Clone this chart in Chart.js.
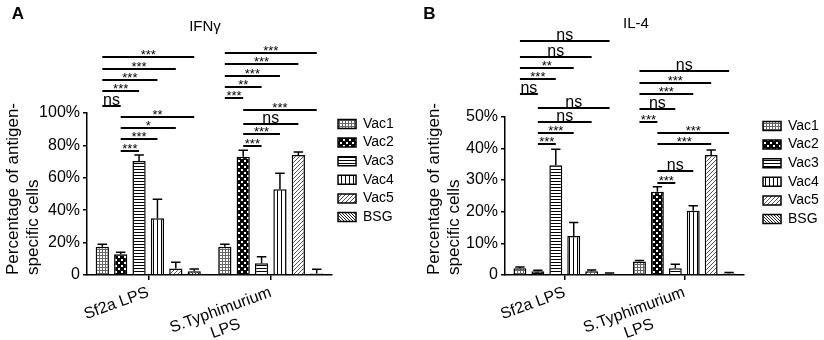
<!DOCTYPE html>
<html>
<head>
<meta charset="utf-8">
<script src="https://cdn.jsdelivr.net/npm/chart.js@4.4.1/dist/chart.umd.min.js"></script>
<style>
  html, body { margin: 0; padding: 0; background: #fff; }
  #wrap { position: relative; width: 824px; height: 340px; }
  canvas { position: absolute; top: 0; }
  #chartA { left: 0; }
  #chartB { left: 412px; }
</style>
</head>
<body>
<div id="wrap">
  <canvas id="chartA" width="412" height="340"></canvas>
  <canvas id="chartB" width="412" height="340"></canvas>
</div>
<script>
// ---- data ----
const categories = ['Sf2a LPS', ['S.Typhimurium', 'LPS']];
const seriesNames = ['Vac1', 'Vac2', 'Vac3', 'Vac4', 'Vac5', 'BSG'];

// IFNγ (%), one value per series
const ifnSf2a = [17.5, 12.8, 70.4, 35.0, 4.0, 2.3];
const ifnSf2aErr = [1.5, 1.2, 3.6, 11.7, 3.8, 1.4];
const ifnStm = [17.5, 73.0, 7.2, 52.9, 74.0, 1.0];
const ifnStmErr = [1.5, 4.0, 4.1, 9.9, 2.0, 2.5];

// IL-4 (%)
const il4Sf2a = [2.1, 1.2, 34.7, 12.3, 1.2, 0.4];
const il4Sf2aErr = [0.4, 0.3, 5.0, 4.3, 0.4, 0.2];
const il4Stm = [4.3, 26.3, 2.1, 20.3, 37.9, 0.5];
const il4StmErr = [0.3, 1.6, 1.3, 1.6, 1.6, 0.3];

const yTicksA = [0, 20, 40, 60, 80, 100];
const yTicksB = [0, 10, 20, 30, 40, 50];

// significance brackets: [from series, to series, level (%), label]
const ifnSigSf2a = [
  [0, 1, 104.3, 'ns'], [0, 2, 113.6, '***'], [0, 3, 120.4, '***'], [0, 4, 127.3, '***'], [0, 5, 134.4, '***'],
  [1, 2, 76.5, '***'], [1, 3, 83.8, '***'], [1, 4, 90.7, '*'], [1, 5, 97.7, '**']
];
const ifnSigStm = [
  [0, 1, 109.0, '***'], [0, 2, 116.2, '**'], [0, 3, 123.0, '***'], [0, 4, 130.3, '***'], [0, 5, 137.0, '***'],
  [1, 2, 79.8, '***'], [1, 3, 86.9, '***'], [1, 4, 93.4, 'ns'], [1, 5, 102.0, '***']
];
const il4SigSf2a = [
  [0, 1, 57.2, 'ns'], [0, 2, 61.8, '***'], [0, 3, 65.5, '**'], [0, 4, 68.9, 'ns'], [0, 5, 73.9, 'ns'],
  [1, 2, 41.3, '***'], [1, 3, 44.7, '***'], [1, 4, 48.2, 'ns'], [1, 5, 52.6, 'ns']
];
const il4SigStm = [
  [0, 1, 48.4, '***'], [0, 2, 52.4, 'ns'], [0, 3, 57.2, '***'], [0, 4, 60.8, '***'], [0, 5, 64.5, 'ns'],
  [1, 2, 29.1, '***'], [1, 3, 32.9, 'ns'], [1, 4, 41.3, '***'], [1, 5, 44.9, '***']
];

// ---- look ----
const FONT = "'Liberation Sans', Arial, sans-serif";
Chart.defaults.font.family = FONT;
Chart.defaults.color = '#000';

function makePattern(size, draw) {
  const c = document.createElement('canvas');
  c.width = size; c.height = size;
  const g = c.getContext('2d');
  g.fillStyle = '#fff';
  g.fillRect(0, 0, size, size);
  draw(g, size);
  return g.createPattern(c, 'repeat');
}

const patterns = [
  // Vac1: fine gray grid
  makePattern(3, (g) => {
    g.fillStyle = '#666';
    g.fillRect(0, 0, 3, 1);
    g.fillRect(0, 0, 1, 3);
  }),
  // Vac2: black with white dots
  makePattern(6, (g) => {
    g.fillStyle = '#000'; g.fillRect(0, 0, 6, 6);
    g.fillStyle = '#fff'; g.fillRect(1, 1, 2, 2); g.fillRect(4, 4, 2, 2);
  }),
  // Vac3: horizontal lines
  makePattern(3, (g) => { g.fillStyle = '#000'; g.fillRect(0, 1, 3, 1); }),
  // Vac4: vertical lines
  makePattern(4, (g) => { g.fillStyle = '#000'; g.fillRect(1, 0, 1, 4); }),
  // Vac5: thin gray "/" lines
  makePattern(4, (g) => {
    g.strokeStyle = '#555'; g.lineWidth = 1;
    g.beginPath();
    g.moveTo(0, 4); g.lineTo(4, 0);
    g.moveTo(-1, 1); g.lineTo(1, -1);
    g.moveTo(3, 5); g.lineTo(5, 3);
    g.stroke();
  }),
  // BSG: dense "\" lines
  makePattern(3, (g) => {
    g.strokeStyle = '#222'; g.lineWidth = 1;
    g.beginPath();
    g.moveTo(0, 0); g.lineTo(3, 3);
    g.moveTo(-1, 2); g.lineTo(1, 4);
    g.moveTo(2, -1); g.lineTo(4, 1);
    g.stroke();
  })
];

// centre the shorter line of a multi-line tick label (ticks are right aligned when rotated)
const meas = document.createElement('canvas').getContext('2d');
meas.font = '16px ' + FONT;
function centerLines(lines) {
  if (!Array.isArray(lines)) return lines;
  const w = lines.map(s => meas.measureText(s).width);
  const max = Math.max(...w);
  const sp = meas.measureText(' ').width;
  return lines.map((s, i) => s + ' '.repeat(Math.round((max - w[i]) / 2 / sp)));
}

// ---- plugins ----
const errorBars = {
  id: 'errorBars',
  afterDatasetsDraw(chart) {
    const ctx = chart.ctx, y = chart.scales.y;
    ctx.save();
    ctx.strokeStyle = '#000';
    ctx.lineWidth = 1.5;
    chart.data.datasets.forEach((ds, i) => {
      chart.getDatasetMeta(i).data.forEach((bar, j) => {
        const top = y.getPixelForValue(ds.data[j] + ds.errors[j]);
        const half = bar.width * 0.36;
        ctx.beginPath();
        ctx.moveTo(bar.x, bar.y); ctx.lineTo(bar.x, top);
        ctx.moveTo(bar.x - half, top); ctx.lineTo(bar.x + half, top);
        ctx.stroke();
      });
    });
    ctx.restore();
  }
};

function bracketPlugin(groups) {
  return {
    id: 'sigBrackets',
    afterDraw(chart) {
      const ctx = chart.ctx, y = chart.scales.y;
      ctx.save();
      ctx.strokeStyle = '#000';
      ctx.fillStyle = '#000';
      ctx.lineWidth = 2;
      ctx.textAlign = 'center';
      ctx.textBaseline = 'alphabetic';
      groups.forEach((list, g) => {
        list.forEach(([a, b, level, label]) => {
          const x1 = chart.getDatasetMeta(a).data[g].x;
          const x2 = chart.getDatasetMeta(b).data[g].x;
          const py = Math.round(y.getPixelForValue(level));
          ctx.beginPath();
          ctx.moveTo(x1, py); ctx.lineTo(x2, py);
          ctx.stroke();
          if (label === 'ns') {
            ctx.font = '16px ' + FONT;
            ctx.fillText(label, (x1 + x2) / 2, py - 1.5);
          } else {
            ctx.font = '13px ' + FONT;
            ctx.fillText(label, (x1 + x2) / 2, py + 1.5);
          }
        });
      });
      ctx.restore();
    }
  };
}

function panelText(letter, lx, title, tx, ty) {
  return {
    id: 'panelText',
    afterDraw(chart) {
      const ctx = chart.ctx;
      ctx.save();
      ctx.fillStyle = '#000';
      ctx.textAlign = 'center';
      ctx.textBaseline = 'middle';
      ctx.font = 'bold 17px ' + FONT;
      ctx.fillText(letter, lx, 14);
      ctx.textBaseline = 'alphabetic';
      ctx.font = '15px ' + FONT;
      ctx.fillText(title, tx, ty);
      ctx.restore();
    }
  };
}

function legendShift(dx, dy) {
  return {
    id: 'legendShift',
    afterLayout(chart) {
      chart.legend.left += dx; chart.legend.right += dx;
      chart.legend.top += dy; chart.legend.bottom += dy;
    }
  };
}

// ---- charts ----
function buildChart(canvasId, cfg) {
  const datasets = seriesNames.map((name, i) => ({
    label: name,
    data: [cfg.sf2a[i], cfg.stm[i]],
    errors: [cfg.sf2aErr[i], cfg.stmErr[i]],
    backgroundColor: patterns[i],
    borderColor: '#000',
    borderWidth: 1.5,
    categoryPercentage: 0.9,
    barPercentage: 0.72
  }));

  return new Chart(document.getElementById(canvasId), {
    type: 'bar',
    data: { labels: categories, datasets: datasets },
    options: {
      responsive: false,
      animation: false,
      devicePixelRatio: 1,
      layout: { padding: { top: cfg.top, right: 9.5, left: 0, bottom: 0 } },
      plugins: {
        legend: {
          position: 'right',
          align: 'start',
          fullSize: false,
          onClick: null,
          labels: { boxWidth: 18, boxHeight: 9, padding: 4.6, font: { size: 14 } }
        },
        tooltip: { enabled: false }
      },
      scales: {
        x: {
          offset: true,
          grid: { display: true, drawOnChartArea: false, offset: false, tickLength: 5, color: '#000', lineWidth: 1.5 },
          border: { display: true, color: '#000', width: 1.5 },
          ticks: {
            autoSkip: false, minRotation: 20, maxRotation: 20, padding: 3,
            font: { size: 16 },
            callback: function (value) { return centerLines(this.getLabelForValue(value)); }
          },
          afterFit: (scale) => { scale.height = 65; }
        },
        y: {
          min: 0,
          max: cfg.ticks[cfg.ticks.length - 1],
          afterBuildTicks: (scale) => { scale.ticks = cfg.ticks.map(v => ({ value: v })); },
          grid: { display: true, drawOnChartArea: false, tickLength: 4, color: '#000', lineWidth: 1.5 },
          border: { display: true, color: '#000', width: 1.5 },
          ticks: {
            padding: 3,
            font: { size: 16 },
            callback: (v) => (v === 0 ? '0' : v + '%')
          },
          title: {
            display: true,
            text: ['Percentage of antigen-', 'specific cells'],
            align: 'start',
            font: { size: 17, lineHeight: 1.15 },
            padding: { top: cfg.titlePad, bottom: 0 }
          },
          afterFit: (scale) => { scale.width = cfg.axisWidth; }
        }
      }
    },
    plugins: [
      errorBars,
      bracketPlugin([cfg.sigSf2a, cfg.sigStm]),
      panelText(cfg.letter, cfg.letterX, cfg.title, cfg.titleX, cfg.titleY),
      legendShift(cfg.legendDx, cfg.legendDy)
    ]
  });
}

buildChart('chartA', {
  sf2a: ifnSf2a, sf2aErr: ifnSf2aErr, stm: ifnStm, stmErr: ifnStmErr,
  ticks: yTicksA, sigSf2a: ifnSigSf2a, sigStm: ifnSigStm,
  top: 113, axisWidth: 87, titlePad: 4,
  letter: 'A', letterX: 18, title: 'IFNγ', titleX: 205, titleY: 31,
  legendDx: 1.4, legendDy: -0.6
});

buildChart('chartB', {
  sf2a: il4Sf2a, sf2aErr: il4Sf2aErr, stm: il4Stm, stmErr: il4StmErr,
  ticks: yTicksB, sigSf2a: il4SigSf2a, sigStm: il4SigStm,
  top: 116.7, axisWidth: 93, titlePad: 13,
  letter: 'B', letterX: 17.5, title: 'IL-4', titleX: 224, titleY: 28.3,
  legendDx: 14.4, legendDy: -2.3
});
</script>
</body>
</html>
